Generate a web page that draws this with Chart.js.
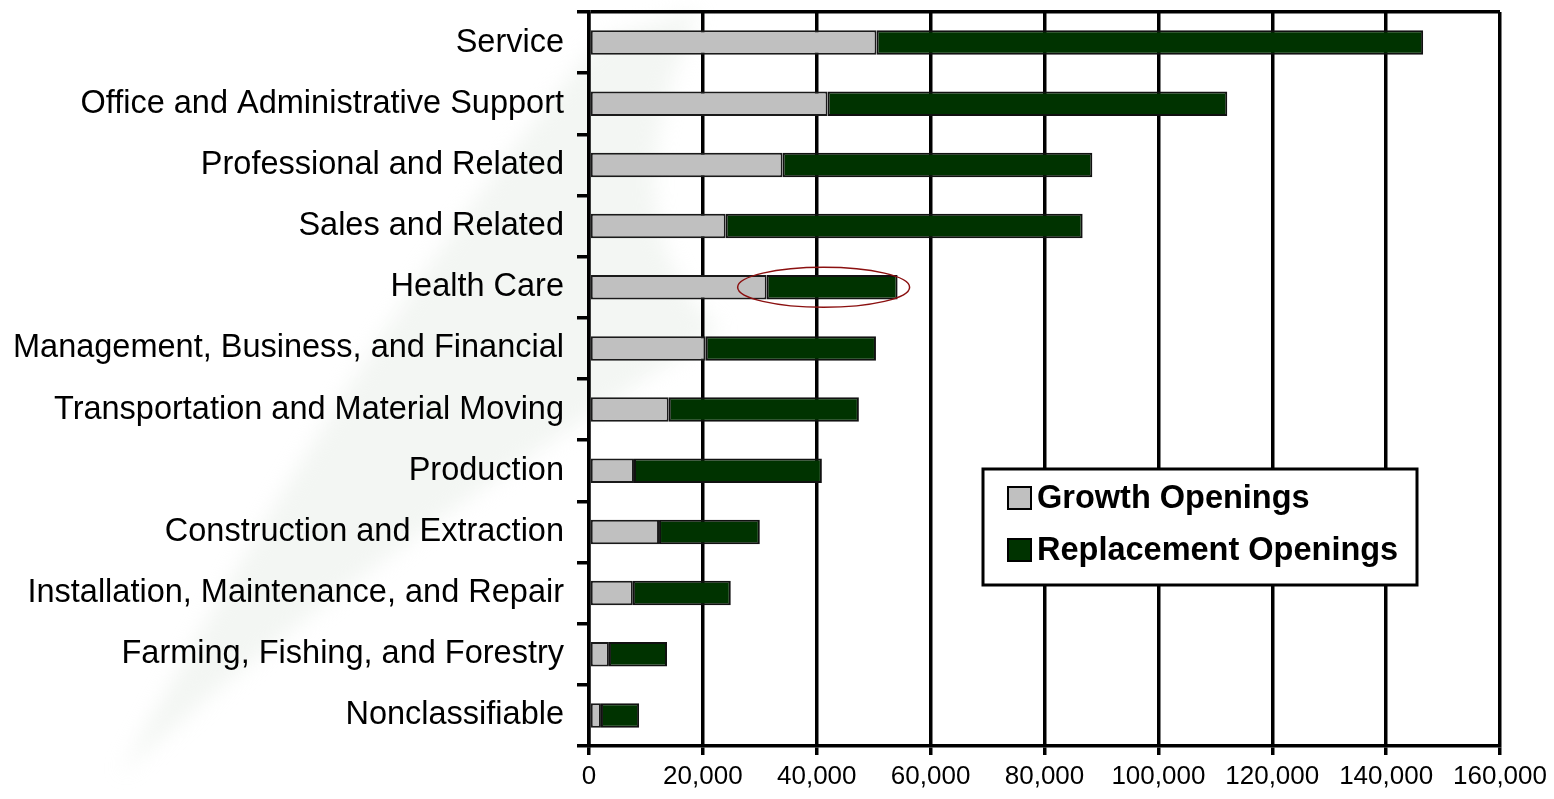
<!DOCTYPE html>
<html>
<head>
<meta charset="utf-8">
<script src="https://cdn.jsdelivr.net/npm/chart.js@4"></script>
<style>
  html, body { margin: 0; padding: 0; background: #fff; }
  #wrap { width: 1554px; height: 799px; position: relative; }
</style>
</head>
<body>
<div id="wrap"><canvas id="myChart" width="1554" height="799"></canvas></div>
<script>
// categories top to bottom
const categories = [
   'Service',
   'Office and Administrative Support',
   'Professional and Related',
   'Sales and Related',
   'Health Care',
   'Management, Business, and Financial',
   'Transportation and Material Moving',
   'Production',
   'Construction and Extraction',
   'Installation, Maintenance, and Repair',
   'Farming, Fishing, and Forestry',
   'Nonclassifiable'
];
const growthOpenings = [50500, 41900, 34000, 24000, 31200, 20500, 14000, 7900, 12300, 7700, 3500, 2100];
const replacementOpenings = [96000, 70200, 54400, 62700, 23000, 29900, 33400, 33000, 17700, 17200, 10200, 6700];
const xTicks = [0, 20000, 40000, 60000, 80000, 100000, 120000, 140000, 160000];

const highlightIndex = 4; // Health Care gets the red ellipse
const fontFamily = '"Liberation Sans", Arial, sans-serif';

// бледный "водяной знак" на фоне
const watermark = {
   id: 'watermark',
   beforeDraw(chart) {
      const c = chart.ctx;
      c.save();
      c.filter = 'blur(10px)';
      c.fillStyle = 'rgba(226, 232, 226, 0.4)';
      c.beginPath();
      c.moveTo(600, 40);
      c.quadraticCurveTo(380, 300, 120, 775);
      c.quadraticCurveTo(330, 580, 720, 330);
      c.quadraticCurveTo(600, 220, 700, 10);
      c.closePath();
      c.fill();
      c.restore();
   }
};

// рамка-легенда внутри графика
const boxLegend = {
   id: 'boxLegend',
   afterDraw(chart) {
      const c = chart.ctx;
      c.save();
      c.fillStyle = '#fff';
      c.strokeStyle = '#000';
      c.lineWidth = 3;
      c.fillRect(983, 469, 434, 116);
      c.strokeRect(983, 469, 434, 116);
      c.font = 'bold 32.5px ' + fontFamily;
      c.textBaseline = 'middle';
      chart.data.datasets.forEach((ds, i) => {
         const y = 498 + i * 52;
         c.fillStyle = ds.backgroundColor;
         c.fillRect(1008, y - 11, 23, 22);
         c.lineWidth = 2;
         c.strokeStyle = '#000';
         c.strokeRect(1008, y - 11, 23, 22);
         c.fillStyle = '#000';
         c.fillText(ds.label, 1037, y + 1);
      });
      c.restore();
   }
};

// красный эллипс вокруг Health Care
const ellipseMark = {
   id: 'ellipseMark',
   afterDatasetsDraw(chart) {
      const xs = chart.scales.x, ys = chart.scales.y;
      const g = growthOpenings[highlightIndex];
      const t = g + replacementOpenings[highlightIndex];
      const left = xs.getPixelForValue(g) - 29;
      const right = xs.getPixelForValue(t) + 12;
      const cy = ys.getPixelForValue(highlightIndex);
      const c = chart.ctx;
      c.save();
      c.strokeStyle = '#8b1010';
      c.lineWidth = 1.5;
      c.beginPath();
      c.ellipse((left + right) / 2, cy, (right - left) / 2, 20, 0, 0, Math.PI * 2);
      c.stroke();
      c.restore();
   }
};

const ctx = document.getElementById('myChart').getContext('2d');

const chart = new Chart(ctx, {
   type: 'bar',
   data: {
      labels: categories,
      datasets: [{
         label: 'Growth Openings',
         data: growthOpenings,
         backgroundColor: '#c0c0c0',
         borderColor: '#1a1a1a',
         borderWidth: 2,
         borderSkipped: false,
         barPercentage: 0.4,
         categoryPercentage: 1
      }, {
         label: 'Replacement Openings',
         data: replacementOpenings,
         backgroundColor: '#003300',
         borderColor: '#111',
         borderWidth: 2,
         borderSkipped: false,
         barPercentage: 0.4,
         categoryPercentage: 1
      }]
   },
   options: {
      indexAxis: 'y',
      responsive: false,
      maintainAspectRatio: false,
      animation: false,
      devicePixelRatio: 1,
      layout: { padding: { top: 12, right: 54, left: 0, bottom: 0 } },
      plugins: {
         legend: { display: false },
         tooltip: { enabled: false }
      },
      scales: {
         x: {
            stacked: true,
            min: 0,
            max: 160000,
            afterBuildTicks: (s) => { s.ticks = xTicks.map(v => ({ value: v })); },
            afterFit: (s) => { s.height = 53; s.paddingLeft = 0; s.paddingRight = 0; },
            border: { color: '#000', width: 3.5 },
            grid: { color: '#000', lineWidth: 3.5, tickLength: 9, tickColor: '#000' },
            ticks: {
               color: '#000',
               padding: 6,
               font: { family: fontFamily, size: 26 },
               callback: (v) => v.toLocaleString('en-US')
            }
         },
         y: {
            stacked: true,
            afterFit: (s) => { s.width = 589; s.paddingTop = 0; s.paddingBottom = 0; },
            border: { color: '#000', width: 3.5 },
            grid: {
               offset: true,
               color: (c) => c.index === 0 ? '#000' : 'rgba(0,0,0,0)',
               lineWidth: 3.5,
               tickLength: 12,
               tickColor: '#000',
               tickWidth: 3.5
            },
            ticks: {
               color: '#000',
               padding: 13,
               font: { family: fontFamily, size: 32.5 }
            }
         }
      }
   },
   plugins: [watermark, ellipseMark, boxLegend]
});
</script>
</body>
</html>
